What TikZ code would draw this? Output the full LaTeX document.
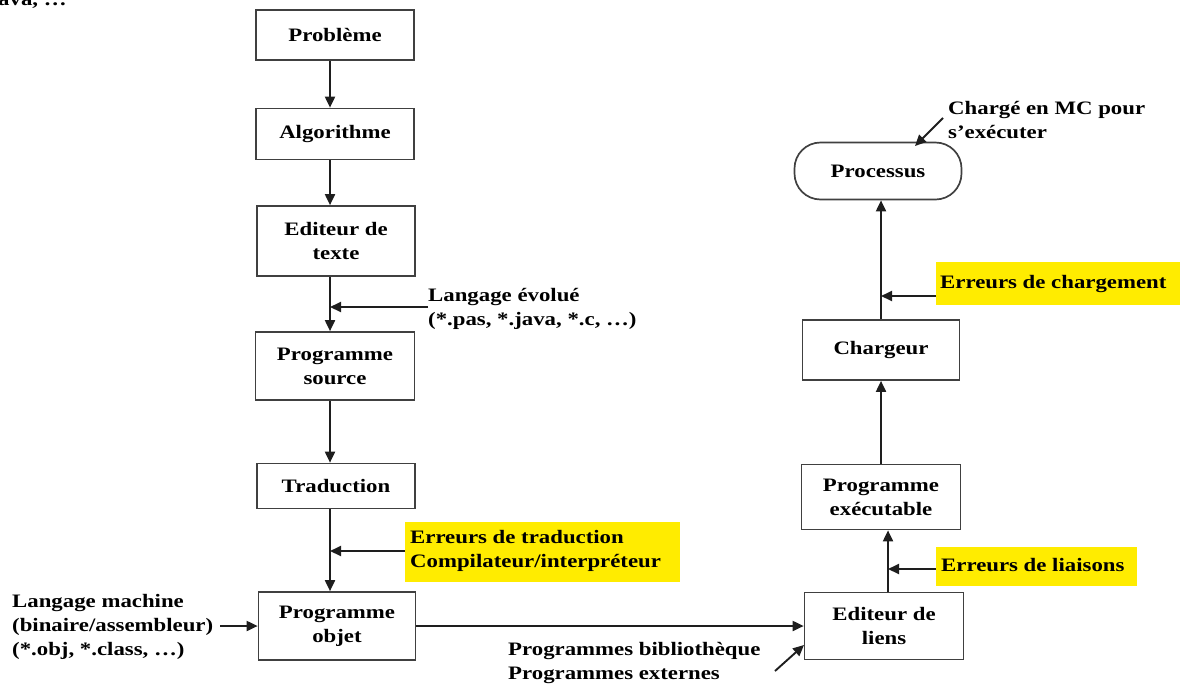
\documentclass[tikz,border=0pt]{standalone}
\usepackage{fontspec}
\setmainfont{Liberation Serif}[FakeStretch=1.2]
\usetikzlibrary{arrows.meta}
\definecolor{hl}{RGB}{255,236,0}
\definecolor{ink}{RGB}{30,30,30}
\newcommand{\labfont}{\fontsize{19}{24}\selectfont\bfseries}
\tikzset{
  box/.style={draw=ink!85, line width=1.7pt, fill=white, align=center,
    inner sep=0pt, font=\labfont},
  lbl/.style={align=left, inner sep=0pt, font=\labfont},
  hlbox/.style={fill=hl, inner sep=0pt, anchor=north west},
  arr/.style={draw=ink, line width=1.9pt, -{Triangle[length=11pt,width=10pt]}},
}
\begin{document}
\begin{tikzpicture}[x=1pt,y=-1pt]
\useasboundingbox (0,0) rectangle (1180,686);

% clipped line left over from the text above
\node[lbl, anchor=base west] (frag) at (-2,5) {ava, \dots};

% left column: from the problem to the object program
\node[box, minimum width=158pt, minimum height=50pt] (prob) at (335,35) {Problème};
\node[box, minimum width=158pt, minimum height=51pt] (algo) at (335,134) {Algorithme};
\node[box, minimum width=158pt, minimum height=70pt] (edit) at (336,241) {Editeur de\\texte};
\node[box, minimum width=159pt, minimum height=68pt] (src) at (335,366) {Programme\\source};
\node[box, minimum width=158pt, minimum height=45pt] (trad) at (336,486) {Traduction};
\node[box, minimum width=157pt, minimum height=68pt] (obj) at (337,626) {Programme\\objet};

% right column: from the link editor to the process
\node[box, rounded corners=26pt, minimum width=167pt, minimum height=57pt] (proc) at (878,171) {Processus};
\node[box, minimum width=157pt, minimum height=60pt] (charg) at (881,350) {Chargeur};
\node[box, minimum width=159pt, minimum height=65pt] (exec) at (881,497) {Programme\\exécutable};
\node[box, minimum width=159pt, minimum height=67pt] (liens) at (884,626) {Editeur de\\liens};

% side labels
\node[lbl, anchor=west] (evol) at (428,309) {Langage évolué\\(*.pas, *.java, *.c, \dots)};
\node[hlbox, minimum width=275pt, minimum height=60pt] (errtrad) at (405,522) {};
\node[lbl, anchor=west] (errtradt) at (410,551) {Erreurs de traduction\\Compilateur/interpréteur};
\node[lbl, anchor=west] (lmach) at (12,627) {Langage machine\\(binaire/assembleur)\\(*.obj, *.class, \dots)};
\node[lbl, anchor=west] (pbib) at (508,663) {Programmes bibliothèque\\Programmes externes};
\node[hlbox, minimum width=201pt, minimum height=39pt] (errlia) at (936,547) {};
\node[lbl, anchor=west] (errliat) at (941,565) {Erreurs de liaisons};
\node[hlbox, minimum width=244pt, minimum height=43pt] (errch) at (936,262) {};
\node[lbl, anchor=west] (errcht) at (940,284) {Erreurs de chargement};
\node[lbl, anchor=west] (mc) at (948,120) {Chargé en MC pour\\s’exécuter};

% free ends of the side arrows
\coordinate (jevol) at (330,307);
\coordinate (jtrad) at (330,551);
\coordinate (jlia) at (888,569);
\coordinate (jch) at (881,296);
\coordinate (pbstart) at (775,671);
\coordinate (pbend) at (804,645);
\coordinate (mcstart) at (943,118);
\coordinate (mcend) at (915,146);

% main flow
\draw[arr] (prob.south -| 330,0) -- (algo.north -| 330,0);
\draw[arr] (algo.south -| 330,0) -- (edit.north -| 330,0);
\draw[arr] (edit.south -| 330,0) -- (src.north -| 330,0);
\draw[arr] (src.south -| 330,0) -- (trad.north -| 330,0);
\draw[arr] (trad.south -| 330,0) -- (obj.north -| 330,0);
\draw[arr] (obj.east) -- (liens.west);
\draw[arr] (liens.north -| 888,0) -- (exec.south -| 888,0);
\draw[arr] (exec.north -| 881,0) -- (charg.south -| 881,0);
\draw[arr] (charg.north -| 881,0) -- (proc.south -| 881,0);

% side inputs
\draw[arr] (evol.west |- jevol) -- (jevol);
\draw[arr] (errtrad.west |- jtrad) -- (jtrad);
\draw[arr] (errlia.west |- jlia) -- (jlia);
\draw[arr] (errch.west |- jch) -- (jch);
\draw[arr] ([xshift=7pt]lmach.east |- obj.west) -- (obj.west);
\draw[arr] (pbstart) -- (pbend);
\draw[arr] (mcstart) -- (mcend);
\end{tikzpicture}
\end{document}
